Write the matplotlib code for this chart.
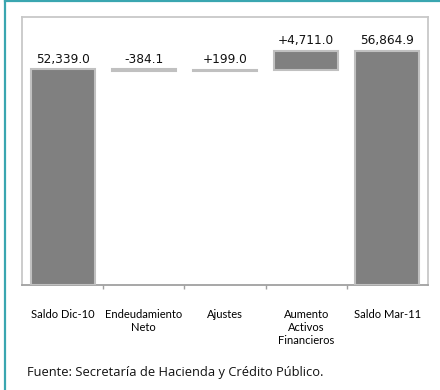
import matplotlib
matplotlib.use("Agg")
import matplotlib.pyplot as plt
from matplotlib.lines import Line2D

# Waterfall of the debt balance, Dec-10 to Mar-11
categories = ["Saldo Dic-10", "Endeudamiento\nNeto", "Ajustes",
              "Aumento\nActivos\nFinancieros", "Saldo Mar-11"]
changes = [52339.0, -384.1, 199.0, 4711.0, 56864.9]
labels = ["52,339.0", "-384.1", "+199.0", "+4,711.0", "56,864.9"]
is_total = [True, False, False, False, True]

# floating bar geometry derived from the running balance
bottoms, heights = [], []
running = 0.0
for val, total in zip(changes, is_total):
    if total:
        bottoms.append(0.0)
        heights.append(val)
        running = val
    else:
        if val >= 0:
            bottoms.append(running)
            heights.append(val)
        else:
            bottoms.append(running + val)
            heights.append(-val)
        running += val

fig = plt.figure(figsize=(4.4, 3.9), dpi=100)
ax = fig.add_axes([22 / 440, 1 - 285 / 390, 406 / 440, 268 / 390])

x = list(range(len(categories)))
bars = ax.bar(x, heights, bottom=bottoms, width=0.79, color="#808080",
              edgecolor="#c0c0c0", linewidth=1.5, zorder=3)

for i, b in enumerate(bars):
    top = bottoms[i] + heights[i]
    ax.annotate(labels[i], (x[i], top), xytext=(0, 2.5), textcoords="offset points",
                ha="center", va="bottom", fontsize=8.7, family="DejaVu Sans",
                color="#111111")

ax.set_xlim(-0.5, len(categories) - 0.5)
ax.set_ylim(0, 65000)
ax.set_yticks([])

ax.set_xticks(x)
ax.set_xticklabels(categories, fontsize=8, family="Lato", linespacing=1.22,
                   va="top")
ax.tick_params(axis="x", which="major", length=0, pad=17)
ax.set_xticks([i + 0.5 for i in range(len(categories) - 1)], minor=True)
ax.tick_params(axis="x", which="minor", length=3, direction="out",
               color="#a0a0a0", width=1)

for side in ("left", "top", "right"):
    ax.spines[side].set_color("#c8c8c8")
    ax.spines[side].set_linewidth(1.3)
ax.spines["bottom"].set_color("#a0a0a0")
ax.spines["bottom"].set_linewidth(1.3)

fig.text(27 / 440, 1 - 372.5 / 390, "Fuente: Secretaría de Hacienda y Crédito Público.",
         fontsize=9.3, family="Open Sans", va="center", ha="left", color="#111111")

# teal frame along the left and top edges
teal = "#3aa6b0"
fig.add_artist(Line2D([4.5 / 440, 4.5 / 440], [0, 1], color=teal, lw=1.6,
                      transform=fig.transFigure))
fig.add_artist(Line2D([4.5 / 440, 1], [1 - 1 / 390, 1 - 1 / 390], color=teal, lw=1.6,
                      transform=fig.transFigure))

fig.savefig("out.png", dpi=100)
